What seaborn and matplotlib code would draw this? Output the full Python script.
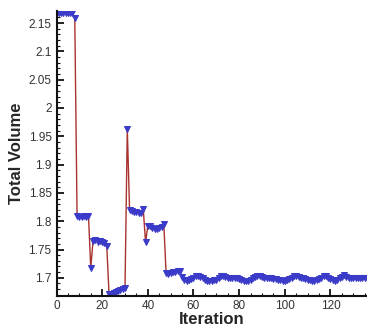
import numpy as np
import pandas as pd
import matplotlib
matplotlib.use("Agg")
import matplotlib.pyplot as plt
from matplotlib.ticker import MultipleLocator, FuncFormatter
import seaborn as sns

# total volume per iteration
volume = [
    2.168, 2.168, 2.168, 2.168, 2.168, 2.168, 2.168, 2.168, 2.158,
    1.810, 1.808, 1.807, 1.809, 1.808, 1.810,
    1.717,
    1.765, 1.766, 1.764, 1.765, 1.763, 1.762, 1.757,
    1.672, 1.671, 1.673, 1.675, 1.676, 1.678, 1.680, 1.682,
    1.963,
    1.820, 1.818, 1.817, 1.816, 1.815, 1.815, 1.821,
    1.763,
    1.792, 1.791, 1.788, 1.786, 1.787, 1.788, 1.790, 1.795,
    1.708, 1.706, 1.709, 1.710, 1.711, 1.712, 1.712,
    1.701, 1.697, 1.695, 1.696, 1.698, 1.700,
    1.704, 1.703,
    1.701, 1.699, 1.697, 1.695, 1.694,
    1.695, 1.696, 1.697, 1.699,
    1.704, 1.703,
    1.701, 1.700, 1.700, 1.700, 1.699, 1.699, 1.698, 1.696,
    1.695, 1.694, 1.695,
    1.697, 1.699, 1.701,
    1.704, 1.703,
    1.701, 1.700, 1.700, 1.699, 1.699, 1.698, 1.698, 1.697, 1.696, 1.695,
    1.694, 1.696, 1.698, 1.700,
    1.703, 1.704, 1.702,
    1.700, 1.699, 1.698, 1.697, 1.696, 1.695, 1.694,
    1.696, 1.698, 1.700,
    1.704, 1.703,
    1.700, 1.698, 1.696, 1.695,
    1.697, 1.700, 1.702,
    1.705, 1.702,
    1.700, 1.700, 1.700, 1.700, 1.700, 1.700, 1.700, 1.700, 1.700,
]
iteration = list(range(len(volume)))

df = pd.DataFrame({"Iteration": iteration, "Total Volume": volume})

sns.set_style("ticks")
plt.rcParams["font.family"] = ["Liberation Sans", "DejaVu Sans"]

fig = plt.figure(figsize=(3.67, 3.27), dpi=100)
ax = fig.add_axes([0.154, 0.095, 0.846, 0.871])

sns.lineplot(
    data=df, x="Iteration", y="Total Volume", ax=ax,
    color="#a8322d", linewidth=1.0,
    marker="v", markersize=4.8,
    markerfacecolor="#3b3bc9", markeredgecolor="#3b3bc9",
)

ax.set_xlim(0, 136)
ax.set_ylim(1.668, 2.171)
ax.xaxis.set_major_locator(MultipleLocator(20))
ax.xaxis.set_minor_locator(MultipleLocator(5))
ax.yaxis.set_major_locator(MultipleLocator(0.05))
ax.yaxis.set_minor_locator(MultipleLocator(0.01))
ax.yaxis.set_major_formatter(FuncFormatter(lambda v, p: f"{v:.2f}".rstrip("0").rstrip(".")))

ax.tick_params(which="both", direction="in", color="#111111", labelsize=8.5, labelcolor="#333333")
ax.tick_params(which="major", length=5, width=1.3)
ax.tick_params(which="minor", length=2.5, width=0.8)
ax.tick_params(axis="x", pad=3)

sns.despine(ax=ax)
for s in ("left", "bottom"):
    ax.spines[s].set_linewidth(1.5)
    ax.spines[s].set_color("#111111")

ax.set_xlabel("Iteration", fontsize=12, fontweight="bold", labelpad=0)
ax.set_ylabel("Total Volume", fontsize=12, fontweight="bold", labelpad=3)

fig.savefig("out.png", dpi=100)
